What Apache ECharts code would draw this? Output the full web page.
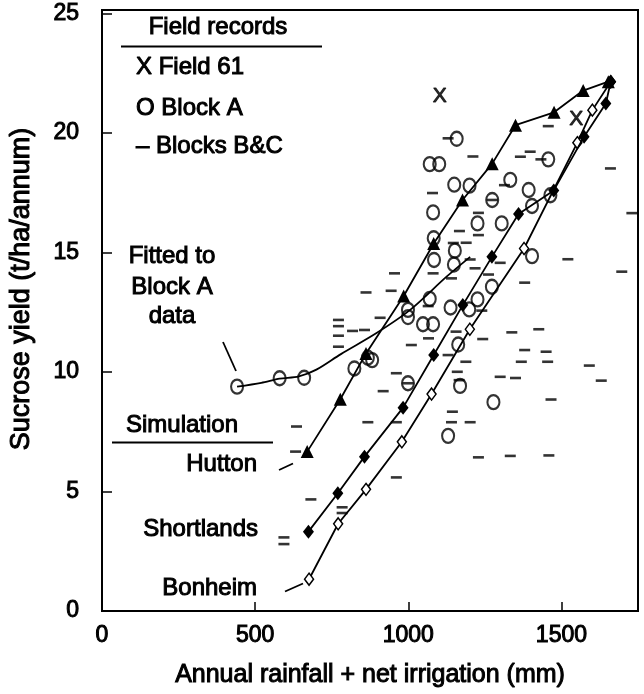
<!DOCTYPE html>
<html>
<head>
<meta charset="utf-8">
<script src="https://cdn.jsdelivr.net/npm/echarts@6/dist/echarts.min.js"></script>
<style>html,body{margin:0;padding:0;background:#fff}#c{width:644px;height:694px}</style>
</head>
<body>
<div id="c"></div>
<script>
// ---- tick labels ----
const xTicks = [0, 500, 1000, 1500];
const yTicks = [0, 5, 10, 15, 20, 25];

// ---- Field records ----
const field61 = [[1103, 21.55], [1548, 20.6]];

const blockA = [
  [441, 9.39], [580, 9.74], [660, 9.76], [824, 10.15], [868, 10.6], [882, 10.5],
  [999, 9.53], [999, 12.6], [999, 12.3], [1048, 12.0], [1081, 12.0], [1070, 13.06],
  [1084, 14.69], [1083, 15.6], [1152, 15.08], [1149, 14.5], [1081, 16.68], [1070, 18.7],
  [1101, 18.7], [1158, 19.76], [1150, 17.84], [1200, 17.8], [1274, 17.2], [1333, 18.04],
  [1393, 17.62], [1457, 18.9], [1226, 16.22], [1305, 16.22], [1404, 16.95], [1464, 17.4],
  [1404, 14.85], [1226, 13.04], [1273, 13.57], [1138, 12.7], [1199, 12.62], [1163, 11.15],
  [1169, 9.42], [1278, 8.74], [1130, 7.33]
];

const blocksBC = [
  [594, 3.08], [594, 2.8], [632, 6.67], [635, 7.72], [682, 4.67], [784, 4.34], [784, 4.1],
  [772, 12.18], [772, 11.92], [772, 11.52], [772, 11.06], [818, 11.72], [857, 11.76],
  [862, 13.33], [944, 13.4], [955, 14.13], [908, 12.27], [1010, 11.13], [961, 9.95], [918, 9.2],
  [868, 7.9], [961, 7.9], [961, 5.59], [999, 9.53], [1065, 12.76], [1066, 11.41], [1081, 14.13],
  [1141, 13.92], [1079, 17.49], [1130, 19.78], [1211, 19.02], [1167, 15.9], [1147, 15.4], [1189, 15.41],
  [1229, 15.73], [1202, 14.71], [1218, 14.34], [1262, 14.08], [1300, 14.57], [1240, 12.57], [1243, 11.38],
  [1156, 11.69], [1130, 10.71], [1188, 10.43], [1160, 10.01], [1166, 9.66], [1144, 8.34], [1141, 7.9], [1202, 7.9],
  [1229, 6.43], [1333, 6.49], [1459, 6.51], [1229, 16.66], [1274, 17.2], [1314, 17.82], [1366, 19.01], [1398, 19.22],
  [1433, 18.9], [1457, 20.29], [1660, 18.52], [1730, 16.65], [1380, 13.74], [1521, 14.72], [1697, 14.2],
  [1338, 11.66], [1426, 11.79], [1380, 10.92], [1450, 10.85], [1369, 10.43], [1455, 10.43], [1591, 10.27],
  [1630, 9.64], [1300, 9.8], [1350, 9.75], [1466, 8.85]
];

// ---- Fitted curve ----
const fittedBlockA = [
  [441, 9.39], [520, 9.55], [580, 9.72], [643, 9.82], [700, 10.1], [780, 10.75],
  [895, 11.62], [1005, 12.59], [1125, 13.99], [1202, 14.82]
];

// ---- Simulation ----
const hutton = [
  [670, 6.67], [778, 8.86], [862, 10.78], [985, 13.18], [1083, 15.38], [1177, 17.2],
  [1274, 18.72], [1350, 20.33], [1476, 20.87], [1571, 21.78], [1653, 22.15]
];
const shortlands = [
  [674, 3.32], [770, 4.93], [857, 6.46], [983, 8.51], [1083, 10.71], [1178, 12.8],
  [1273, 14.82], [1360, 16.61], [1475, 17.6], [1574, 19.85], [1645, 21.24], [1661, 22.15]
];
const bonheim = [
  [676, 1.33], [771, 3.65], [862, 5.09], [979, 7.08], [1076, 9.08], [1201, 11.79],
  [1378, 15.17], [1552, 19.6], [1601, 20.96], [1661, 22.15]
];

const FONT = '"Liberation Sans", Arial, Helvetica, sans-serif';
const txtBold = { textBorderColor: '#000', textBorderWidth: 1 };

function gText(text, x, y, align, size, rot) {
  return {
    type: 'text', x: x, y: y, z: 100, rotation: rot || 0,
    style: {
      text: text, fill: '#000', font: (size || 24) + 'px ' + FONT,
      textAlign: align || 'left', textVerticalAlign: 'middle', verticalAlign: 'middle',
      stroke: '#000', lineWidth: 1
    }
  };
}
function gLine(x1, y1, x2, y2) {
  return { type: 'line', z: 100, shape: { x1: x1, y1: y1, x2: x2, y2: y2 }, style: { stroke: '#000', lineWidth: 1.8 } };
}

const chart = echarts.init(document.getElementById('c'), null, { renderer: 'canvas' });
chart.setOption({
  animation: false,
  backgroundColor: '#fff',
  grid: { left: 102, top: 10, width: 536, height: 601, show: true, borderColor: '#000', borderWidth: 2, backgroundColor: 'transparent' },
  xAxis: {
    type: 'value', min: 0, max: 1750, interval: 500,
    name: 'Annual rainfall + net irrigation (mm)', nameLocation: 'middle', nameGap: 52,
    nameTextStyle: Object.assign({ fontFamily: FONT, fontSize: 25, color: '#000' }, txtBold),
    axisLine: { show: true, lineStyle: { color: '#000', width: 2 } },
    axisTick: { show: true, inside: true, length: 9, lineStyle: { color: '#000', width: 1.5 } },
    splitLine: { show: false },
    axisLabel: Object.assign({ fontFamily: FONT, fontSize: 23, color: '#000', margin: 13,
      formatter: v => xTicks.includes(v) ? String(v) : '' }, txtBold)
  },
  yAxis: {
    type: 'value', min: 0, max: 25.15, interval: 5,
    axisLine: { show: true, lineStyle: { color: '#000', width: 2 } },
    axisTick: { show: true, inside: true, length: 10, lineStyle: { color: '#000', width: 1.5 } },
    splitLine: { show: false },
    axisLabel: Object.assign({ fontFamily: FONT, fontSize: 23, color: '#000', margin: 23,
      formatter: v => yTicks.includes(v) ? String(v) : '' }, txtBold)
  },
  series: [
    { name: 'Fitted to Block A data', type: 'line', data: fittedBlockA, smooth: 0.3, showSymbol: false, symbol: 'none',
      lineStyle: { color: '#000', width: 1.8 }, z: 2 },
    { name: 'Bonheim', type: 'line', data: bonheim, symbol: 'diamond', symbolSize: [9, 12],
      lineStyle: { color: '#000', width: 1.8 }, itemStyle: { color: '#fff', borderColor: '#000', borderWidth: 1.5 }, z: 3 },
    { name: 'Hutton', type: 'line', data: hutton, symbol: 'triangle', symbolSize: [13, 13],
      lineStyle: { color: '#000', width: 1.8 }, itemStyle: { color: '#000' }, z: 4 },
    { name: 'Shortlands', type: 'line', data: shortlands, symbol: 'diamond', symbolSize: [11, 14],
      lineStyle: { color: '#000', width: 1.8 }, itemStyle: { color: '#000' }, z: 4 },
    { name: 'Block A', type: 'scatter', data: blockA, symbol: 'circle', symbolSize: [12, 14],
      itemStyle: { color: 'rgba(255,255,255,0)', borderColor: '#000', borderWidth: 2.2 }, z: 5 },
    { name: 'Blocks B&C', type: 'scatter', data: blocksBC, symbol: 'rect', symbolSize: [11, 2.6],
      itemStyle: { color: '#000' }, z: 5 },
    { name: 'Field 61', type: 'scatter', data: field61, symbol: 'circle', symbolSize: 2,
      itemStyle: { color: 'rgba(0,0,0,0)' }, z: 6,
      label: { show: true, position: 'inside', formatter: 'X', fontFamily: FONT, fontSize: 21,
        color: '#000', textBorderColor: '#000', textBorderWidth: 1 } }
  ],
  graphic: [
    gText('Sucrose yield (t/ha/annum)', 22, 289, 'center', 27, Math.PI / 2),
    gText('Field records', 218, 27, 'center'),
    gLine(121, 46.5, 322, 46.5),
    gText('X Field 61', 136, 67),
    gText('O Block A', 136, 108),
    gText('\u2013 Blocks B&C', 136, 146),
    gText('Fitted to', 172, 256, 'center'),
    gText('Block A', 172, 287, 'center'),
    gText('data', 172, 316, 'center'),
    gLine(223, 342, 236, 371),
    gText('Simulation', 126, 425),
    gLine(112, 442.5, 273, 442.5),
    gText('Hutton', 257, 464, 'right'),
    gLine(279, 470, 293, 463.5),
    gText('Shortlands', 258, 529, 'right'),
    gText('Bonheim', 257, 588, 'right'),
    gLine(285, 591.5, 303, 583.5)
  ]
});
</script>
</body>
</html>
